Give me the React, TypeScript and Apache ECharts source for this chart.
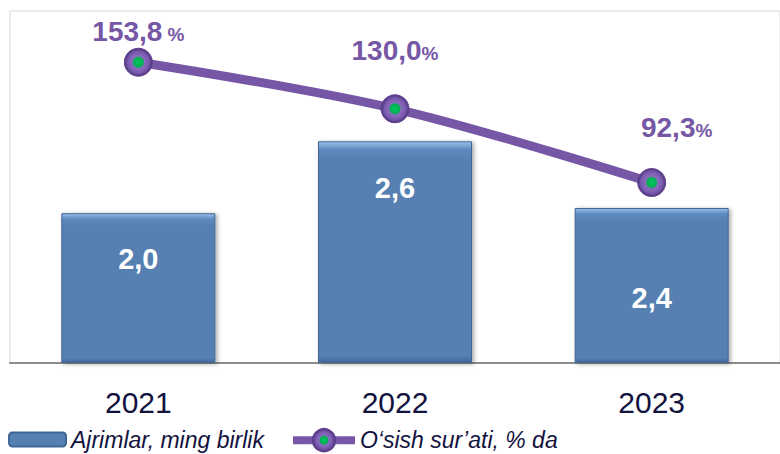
import React, { useEffect, useRef } from "react";
import * as echarts from "echarts";

const categories = ["2021", "2022", "2023"];
const barName = "Ajrimlar, ming birlik";
const lineName = "O‘sish sur’ati, % da";
// bar heights as drawn in the picture (the picture is not to scale)
const barValues = [2.0, 2.96, 2.07];
const barLabels = ["2,0", "2,6", "2,4"];
const growthValues = [153.8, 130.0, 92.3];
const growthLabels = ["153,8 %", "130,0%", "92,3%"];

const FONT = "'Liberation Sans', Arial, sans-serif";
const PURPLE = "#7657a6";
const NAVY = "#12123e";

export default function App() {
  const ref = useRef<HTMLDivElement>(null);
  useEffect(() => {
    if (!ref.current) return;
    const chart = echarts.init(ref.current, null, { renderer: "svg" });
    const barLabelDist = [31, 32, 76];
    const lineLabelOffset = [
      [0, 3],
      [0, -25],
      [25, -22],
    ];
    const barColor = new echarts.graphic.LinearGradient(0, 0, 0, 1, [
      { offset: 0, color: "#9cc0ea" },
      { offset: 0.035, color: "#5e8bc0" },
      { offset: 0.08, color: "#5780b2" },
      { offset: 0.97, color: "#5580b1" },
      { offset: 1, color: "#3f6796" },
    ]);
    const symbolColor = new echarts.graphic.RadialGradient(0.5, 0.5, 0.5, [
      { offset: 0, color: "#00c860" },
      { offset: 0.34, color: "#00b050" },
      { offset: 0.44, color: "#8c6cc0" },
      { offset: 0.75, color: "#7a5aae" },
      { offset: 1, color: "#4e337c" },
    ]);
    const legendText = {
      fontFamily: FONT,
      fontSize: 23,
      fontStyle: "italic",
      color: NAVY,
      lineHeight: 23,
    };
    chart.setOption({
      animation: false,
      backgroundColor: "#ffffff",
      textStyle: { fontFamily: FONT },
      grid: {
        left: 10,
        top: 11,
        width: 774,
        height: 352,
        show: true,
        borderColor: "#ececec",
        borderWidth: 2,
        containLabel: false,
      },
      legend: [
        {
          left: 8,
          top: 428,
          padding: 0,
          itemWidth: 57,
          itemHeight: 14,
          textStyle: legendText,
          data: [{ name: barName }],
        },
        {
          left: 289,
          top: 428,
          padding: 0,
          itemWidth: 62,
          itemHeight: 28,
          lineStyle: { width: 8 },
          textStyle: legendText,
          data: [{ name: lineName }],
        },
      ],
      xAxis: {
        type: "category",
        data: categories,
        axisTick: { show: false },
        axisLine: { lineStyle: { color: "#8c8c8c", width: 2 } },
        axisLabel: {
          color: NAVY,
          fontSize: 30,
          margin: 24,
          fontFamily: FONT,
        },
      },
      yAxis: [
        { type: "value", min: 0, max: 4.7, show: false, splitLine: { show: false } },
        { type: "value", min: 0, max: 180, show: false, splitLine: { show: false } },
      ],
      series: [
        {
          name: barName,
          type: "bar",
          barWidth: 154,
          yAxisIndex: 0,
          itemStyle: {
            color: barColor,
            borderColor: "#3f6694",
            borderWidth: 1,
            shadowBlur: 4,
            shadowColor: "rgba(0,0,0,0.35)",
            shadowOffsetX: 2,
            shadowOffsetY: 1,
          },
          data: barValues.map((v, i) => ({
            value: v,
            label: {
              show: true,
              position: "insideTop",
              distance: barLabelDist[i],
              formatter: () => barLabels[i],
              color: "#ffffff",
              fontSize: 29,
              fontWeight: "bold",
              fontFamily: FONT,
            },
          })),
        },
        {
          name: lineName,
          type: "line",
          yAxisIndex: 1,
          smooth: 0.35,
          symbol: "circle",
          symbolSize: 28,
          lineStyle: { color: PURPLE, width: 9 },
          itemStyle: {
            color: symbolColor,
            borderColor: "#5f4290",
            borderWidth: 1,
          },
          data: growthValues.map((v, i) => ({
            value: v,
            label: {
              show: true,
              position: "top",
              distance: 5,
              offset: lineLabelOffset[i],
              formatter: () => {
                const m = growthLabels[i].match(/^(.*?)(\s?)%$/);
                if (!m) return growthLabels[i];
                return `{n|${m[1]}}{s|${m[2]}}{p|%}`;
              },
              rich: {
                n: { color: PURPLE, fontSize: 28, fontWeight: "bold", fontFamily: FONT },
                s: { color: PURPLE, fontSize: 18, fontWeight: "bold", fontFamily: FONT },
                p: { color: PURPLE, fontSize: 19, fontWeight: "bold", fontFamily: FONT, padding: [6, 0, 0, 0] },
              },
            },
          })),
        },
      ],
    });
    return () => chart.dispose();
  }, []);
  return (
    <div
      ref={ref}
      style={{ position: "absolute", left: 0, top: 0, width: 780, height: 454 }}
    />
  );
}
